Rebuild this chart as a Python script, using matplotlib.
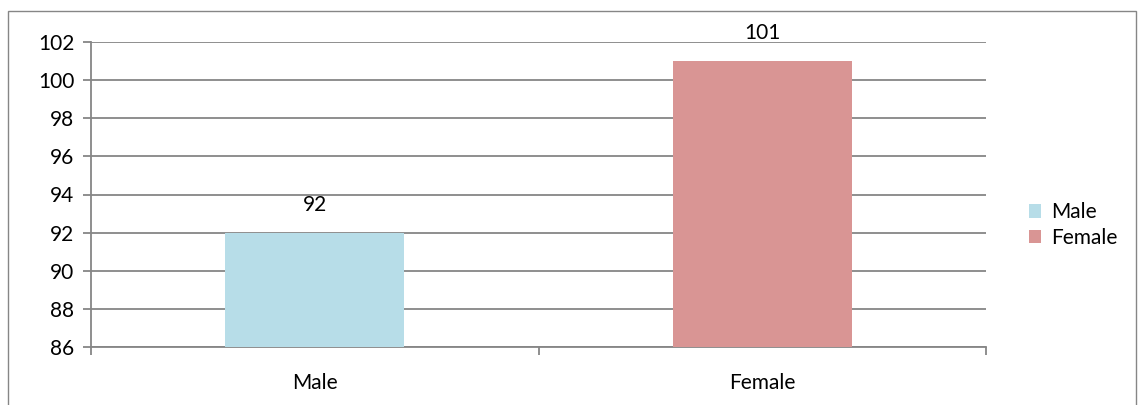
import matplotlib.pyplot as plt
from matplotlib.patches import Rectangle

categories = ["Male", "Female"]
values = [92, 101]
colors = ["#B7DDE8", "#D99594"]
yticks = [86, 88, 90, 92, 94, 96, 98, 100, 102]

plt.rcParams['font.family'] = ['Lato', 'DejaVu Sans']

fig = plt.figure(figsize=(11.44, 4.05), dpi=100)
ax = fig.add_axes([91 / 1144, 1 - 347 / 405, (986 - 91) / 1144, (347 - 42) / 405])

grid_c = "#868686"
fs = 15
x = range(len(categories))
bars = ax.bar(x, values, width=0.4, color=colors, zorder=3)
for b, lab in zip(bars, categories):
    b.set_label(lab)

ax.set_xlim(-0.5, 1.5)
ax.set_ylim(86, 102)
ax.set_yticks(yticks)
ax.yaxis.grid(True, color=grid_c, linewidth=1.3, zorder=0)
ax.set_axisbelow(True)

ax.set_xticks(list(x))
ax.set_xticklabels(categories, fontsize=fs)
ax.set_xticks([-0.5, 0.5, 1.5], minor=True)
ax.tick_params(axis='x', which='major', length=0, pad=19)
ax.tick_params(axis='x', which='minor', length=6, color=grid_c, width=1.3, direction='out')
ax.tick_params(axis='y', length=6, color=grid_c, width=1.3, labelsize=fs, pad=6)

for s in ['top', 'right']:
    ax.spines[s].set_visible(False)
for s in ['left', 'bottom']:
    ax.spines[s].set_color(grid_c)
    ax.spines[s].set_linewidth(1.3)

for xi, v in zip(x, values):
    ax.annotate(str(v), (xi, v), xytext=(0, 20), textcoords='offset points',
                ha='center', va='center', fontsize=fs, zorder=5)

leg = ax.legend(loc='center left', bbox_to_anchor=(1.027, 0.40), frameon=False,
                fontsize=fs, handlelength=0.6, handleheight=0.6, handletextpad=0.45,
                labelspacing=0.25)

fig.patches.append(Rectangle((8 / 1144, -0.05), (1136 - 8) / 1144, 1 - 11 / 405 + 0.05,
                             transform=fig.transFigure, fill=False,
                             edgecolor="#868686", linewidth=1.0))

fig.savefig("out.png", dpi=100)
